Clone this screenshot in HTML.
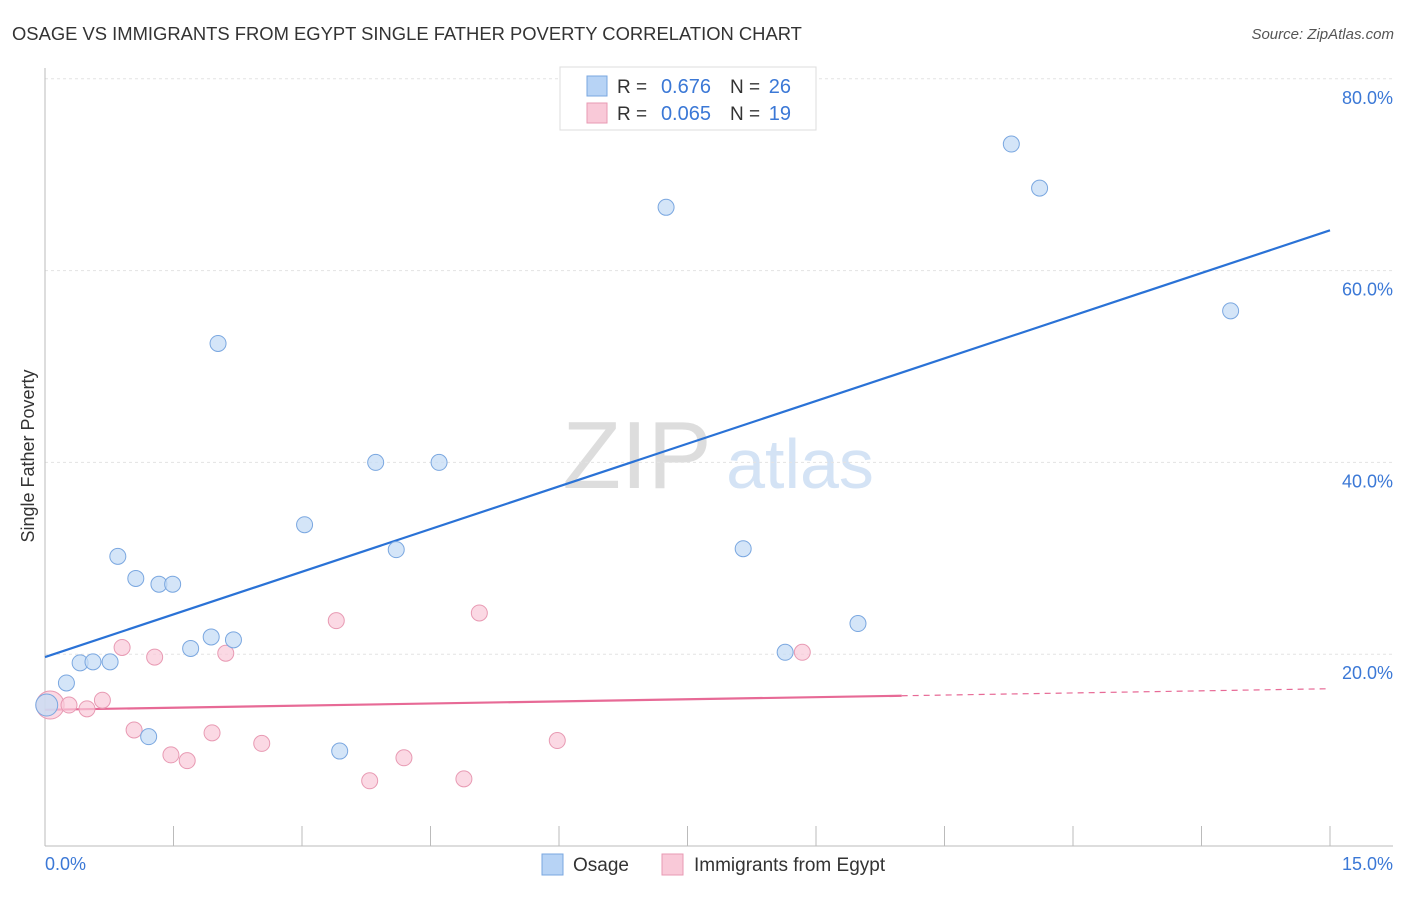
<!DOCTYPE html>
<html><head><meta charset="utf-8"><style>
body{margin:0;background:#fff;font-family:"Liberation Sans",sans-serif}
svg text{font-family:"Liberation Sans",sans-serif}
</style></head><body>
<svg width="1406" height="892">
<text x="12" y="40" font-size="18.4" fill="#333">OSAGE VS IMMIGRANTS FROM EGYPT SINGLE FATHER POVERTY CORRELATION CHART</text>
<text x="1394" y="39" font-size="15" fill="#555" font-style="italic" text-anchor="end">Source: ZipAtlas.com</text>
<text x="637" y="488" font-size="96" fill="#ddd" font-family="Liberation Serif" text-anchor="middle">ZIP</text>
<text x="800" y="488" font-size="70" fill="#d4e3f5" text-anchor="middle">atlas</text>
<g id="grid"></g>
<g id="axes"></g>
<text transform="translate(34,456) rotate(-90)" font-size="18" fill="#333" text-anchor="middle">Single Father Poverty</text>
<text x="45" y="870" font-size="18" fill="#3b78d6">0.0%</text>
<text x="1393" y="870" font-size="18" fill="#3b78d6" text-anchor="end">15.0%</text>
<g id="lines"></g>
<g id="pts"></g>
<g>
<rect x="560" y="67" width="256" height="63" fill="#fff" stroke="#ddd"/>
<rect x="587" y="76" width="20" height="20" fill="#b7d3f5" stroke="#7aa7e0"/>
<text x="617" y="93" font-size="19" fill="#333">R =</text>
<text x="711" y="93" font-size="20" fill="#3b78d6" text-anchor="end">0.676</text>
<text x="730" y="93" font-size="19" fill="#333">N =</text>
<text x="791" y="93" font-size="20" fill="#3b78d6" text-anchor="end">26</text>
<rect x="587" y="103" width="20" height="20" fill="#f9c9d8" stroke="#e89ab3"/>
<text x="617" y="120" font-size="19" fill="#333">R =</text>
<text x="711" y="120" font-size="20" fill="#3b78d6" text-anchor="end">0.065</text>
<text x="730" y="120" font-size="19" fill="#333">N =</text>
<text x="791" y="120" font-size="20" fill="#3b78d6" text-anchor="end">19</text>
</g>
<g>
<rect x="542" y="854" width="21" height="21" fill="#b7d3f5" stroke="#7aa7e0"/>
<text x="573" y="871" font-size="19" fill="#333">Osage</text>
<rect x="662" y="854" width="21" height="21" fill="#f9c9d8" stroke="#e89ab3"/>
<text x="694" y="871" font-size="19" fill="#333">Immigrants from Egypt</text>
</g>
</svg>
<script>
const yTicks=[20,40,60,80];
const yTickLabels=["20.0%","40.0%","60.0%","80.0%"];
const xTicks=[0,1.5,3,4.5,6,7.5,9,10.5,12,13.5,15];
const osageX=[0.02,0.25,0.41,0.56,0.76,0.85,1.06,1.21,1.33,1.49,1.70,1.94,2.02,2.20,3.03,3.44,3.86,4.10,4.60,7.25,8.15,8.64,9.49,11.28,11.61,13.84];
const osageY=[14.7,17.0,19.1,19.2,19.2,30.2,27.9,11.4,27.3,27.3,20.6,21.8,52.4,21.5,33.5,9.9,40.0,30.9,40.0,66.6,31.0,20.2,23.2,73.2,68.6,55.8];
const egyptX=[0.06,0.28,0.49,0.67,0.90,1.04,1.28,1.47,1.66,1.95,2.11,2.53,3.40,3.79,4.19,4.89,5.07,5.98,8.84];
const egyptY=[14.7,14.7,14.3,15.2,20.7,12.1,19.7,9.5,8.9,11.8,20.1,10.7,23.5,6.8,9.2,7.0,24.3,11.0,20.2];
const osageTrend=[19.7,64.2];
const egyptTrend=[14.2,16.4];
const egyptSolidEnd=10;
const NS="http://www.w3.org/2000/svg";
const X=v=>45+v*(1285/15), Y=v=>846-v*9.59;
function mk(t,a,p){const e=document.createElementNS(NS,t);for(const k in a)e.setAttribute(k,a[k]);document.getElementById(p).appendChild(e);return e;}
yTicks.forEach((t,i)=>{
 const g=mk('line',{x1:45,x2:1393,y1:Y(t),y2:Y(t),stroke:'#e3e3e3','stroke-dasharray':'3,3'},'grid');
 
 
 const l=mk('text',{x:1393,y:Y(t)+25,'font-size':18,fill:'#3b78d6','text-anchor':'end'},'grid');
 l.textContent=yTickLabels[i];
 
 
});
const ax=mk('line',{x1:45,x2:45,y1:68,y2:846,stroke:'#bbb'},'axes');


const bx=mk('line',{x1:45,x2:1393,y1:846,y2:846,stroke:'#bbb'},'axes');


xTicks.forEach(t=>{const e=mk('line',{x1:X(t),x2:X(t),y1:826,y2:846,stroke:'#bbb'},'axes');
 
 });
const bl=mk('line',{x1:X(0),y1:Y(osageTrend[0]),x2:X(15),y2:Y(osageTrend[1]),stroke:'#2a72d6','stroke-width':2.2},'lines');


const py=x=>egyptTrend[0]+(egyptTrend[1]-egyptTrend[0])*x/15;
const pl=mk('line',{x1:X(0),y1:Y(py(0)),x2:X(egyptSolidEnd),y2:Y(py(egyptSolidEnd)),stroke:'#e76a96','stroke-width':2.2},'lines');


const pd=mk('line',{x1:X(egyptSolidEnd),y1:Y(py(egyptSolidEnd)),x2:X(15),y2:Y(py(15)),stroke:'#e76a96','stroke-width':1.2,'stroke-dasharray':'6,5'},'lines');


egyptX.forEach((x,i)=>{const c=mk('circle',{cx:X(x),cy:Y(egyptY[i]),r:i==0?14:8,fill:'#f9c9d8','fill-opacity':0.7,stroke:'#e89ab3'},'pts');
 
 });
osageX.forEach((x,i)=>{const c=mk('circle',{cx:X(x),cy:Y(osageY[i]),r:i==0?11:8,fill:'#c6dcf5','fill-opacity':0.75,stroke:'#7aa7e0'},'pts');
 
 });
</script>
</body></html>
